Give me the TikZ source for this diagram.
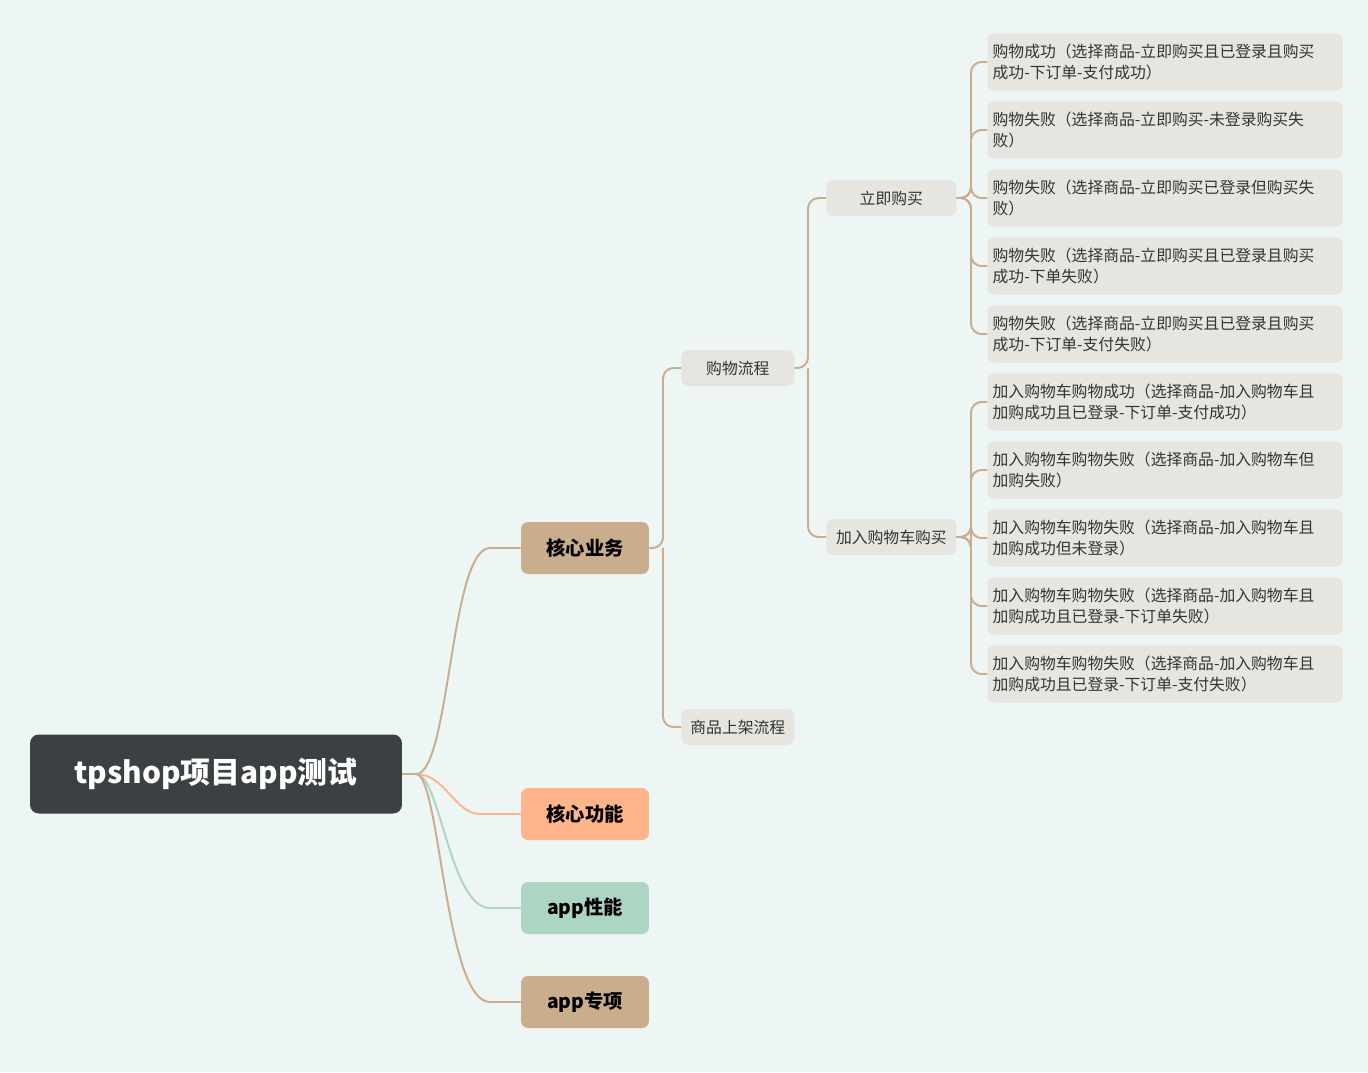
\documentclass[tikz,border=0pt]{standalone}
\usepackage{fontspec}
\setmainfont{Noto Sans CJK SC}
\usepackage{tikz}
\definecolor{bg}{HTML}{EDF5F5}
\definecolor{rootc}{HTML}{3B4043}
\definecolor{tan}{HTML}{C9AD8C}
\definecolor{peach}{HTML}{FFB48A}
\definecolor{mint}{HTML}{ADD5C4}
\definecolor{leaf}{HTML}{E6E5DF}
\tikzset{
  l1/.style={rounded corners=4pt,minimum width=2.56cm,minimum height=1.04cm,font=\fontsize{11}{13}\selectfont\bfseries},
  l2/.style={rounded corners=4pt,fill=leaf,minimum height=0.72cm,anchor=west,inner sep=3pt,font=\fontsize{9}{11}\selectfont,text=black!80},
  l4/.style={rounded corners=4pt,fill=leaf,minimum height=1.14cm,text width=6.9cm,align=left,anchor=west,inner sep=3pt,font=\fontsize{9}{12}\selectfont,text=black!80},
  br/.style={draw=tan,line width=1.1pt,rounded corners=6pt}
}
\begin{document}
\begin{tikzpicture}[x=0.02cm,y=-0.02cm]
\fill[bg] (0,0) rectangle (1368,1072);
\node (root) at (216,774) [fill=rootc,rounded corners=5pt,minimum width=7.44cm,minimum height=1.58cm,text=white,font=\fontsize{17}{20}\selectfont\bfseries] {tpshop项目app测试};
\node (yw) at (585,548) [l1,fill=tan] {核心业务};
\node (gn) at (585,814) [l1,fill=peach] {核心功能};
\node (xn) at (585,908) [l1,fill=mint] {app性能};
\node (zx) at (585,1002) [l1,fill=tan] {app专项};
\node (lc) at (681,368) [l2,minimum width=2.26cm] {购物流程};
\node (sj) at (681,727) [l2,minimum width=2.26cm] {商品上架流程};
\node (lj) at (826,198) [l2,minimum width=2.6cm] {立即购买};
\node (jr) at (826,537) [l2,minimum width=2.6cm] {加入购物车购买};
\node (a1) at (987,62) [l4] {购物成功（选择商品-立即购买且已登录且购买\\成功-下订单-支付成功）};
\node (a2) at (987,130) [l4] {购物失败（选择商品-立即购买-未登录购买失\\败）};
\node (a3) at (987,198) [l4] {购物失败（选择商品-立即购买已登录但购买失\\败）};
\node (a4) at (987,266) [l4] {购物失败（选择商品-立即购买且已登录且购买\\成功-下单失败）};
\node (a5) at (987,334) [l4] {购物失败（选择商品-立即购买且已登录且购买\\成功-下订单-支付失败）};
\node (b1) at (987,402) [l4] {加入购物车购物成功（选择商品-加入购物车且\\加购成功且已登录-下订单-支付成功）};
\node (b2) at (987,470) [l4] {加入购物车购物失败（选择商品-加入购物车但\\加购失败）};
\node (b3) at (987,538) [l4] {加入购物车购物失败（选择商品-加入购物车且\\加购成功但未登录）};
\node (b4) at (987,606) [l4] {加入购物车购物失败（选择商品-加入购物车且\\加购成功且已登录-下订单失败）};
\node (b5) at (987,674) [l4] {加入购物车购物失败（选择商品-加入购物车且\\加购成功且已登录-下订单-支付失败）};
% root branches
\draw[draw=tan,line width=1.1pt] (root.east) -- (416,774) .. controls (450,774) and (450,548) .. (490,548) -- (yw.west);
\draw[draw=peach,line width=1.1pt] (root.east) -- (416,774) .. controls (445,774) and (455,814) .. (480,814) -- (gn.west);
\draw[draw=mint,line width=1.1pt] (root.east) -- (416,774) .. controls (440,774) and (450,908) .. (490,908) -- (xn.west);
\draw[draw=tan,line width=1.1pt] (root.east) -- (416,774) .. controls (440,774) and (445,1002) .. (490,1002) -- (zx.west);
% tree branches
\draw[br] (yw.east) -- (663,548) |- (lc.west);
\draw[br] (663,548) |- (sj.west);
\draw[br] (lc.east) -- (808,368) |- (lj.west);
\draw[br] (808,368) |- (jr.west);
\foreach \n in {a1,a2,a3,a4,a5} \draw[br] (lj.east) -- (971,198) |- (\n.west);
\foreach \n in {b1,b2,b3,b4,b5} \draw[br] (jr.east) -- (971,537) |- (\n.west);
\end{tikzpicture}
\end{document}
